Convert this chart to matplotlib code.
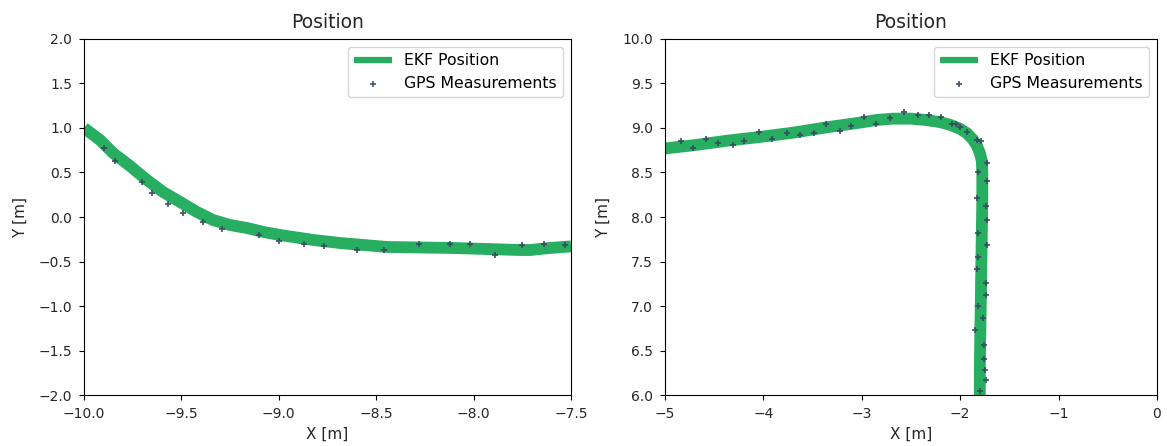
import numpy as np
import matplotlib
matplotlib.use('Agg')
import matplotlib.pyplot as plt

# left panel: EKF estimate and GPS fixes
ekf_x_1 = [-10.0, -9.918, -9.851, -9.764, -9.677, -9.594, -9.507, -9.42, -9.338, -9.25, -9.163, -9.076,
           -8.994, -8.824, -8.686, -8.444, -8.106, -7.762, -7.71, -7.608, -7.5]
ekf_y_1 = [1.0, 0.865, 0.719, 0.573, 0.416, 0.281, 0.169, 0.056, -0.034, -0.09, -0.124, -0.169,
           -0.202, -0.258, -0.292, -0.337, -0.348, -0.371, -0.371, -0.348, -0.33]
gps_x_1 = [-9.90, -9.84, -9.70, -9.65, -9.57, -9.49, -9.39, -9.29, -9.10, -9.00, -8.87, -8.77,
           -8.60, -8.46, -8.28, -8.12, -8.02, -7.89, -7.75, -7.64, -7.53]
gps_y_1 = [0.77, 0.63, 0.39, 0.27, 0.15, 0.04, -0.06, -0.13, -0.20, -0.27, -0.30, -0.33,
           -0.37, -0.37, -0.30, -0.30, -0.30, -0.43, -0.32, -0.30, -0.31]

# right panel
ekf_x_2 = [-5.0, -4.68, -4.37, -4.03, -3.70, -3.36, -3.02, -2.85, -2.68, -2.5, -2.35, -2.2, -2.1, -2.0,
           -1.93, -1.87, -1.83, -1.80, -1.78, -1.775, -1.775, -1.78, -1.785, -1.79, -1.795, -1.80, -1.80]
ekf_y_2 = [8.77, 8.81, 8.857, 8.90, 8.947, 9.007, 9.06, 9.09, 9.105, 9.105, 9.09, 9.065, 9.035, 8.99,
           8.94, 8.87, 8.80, 8.72, 8.63, 8.5, 8.2, 7.82, 7.45, 7.07, 6.7, 6.32, 6.0]
gps_x_2 = [-4.84, -4.71, -4.58, -4.46, -4.31, -4.20, -4.04, -3.91, -3.76, -3.63, -3.49, -3.36, -3.22, -3.11,
           -2.98, -2.86, -2.71, -2.57, -2.43, -2.32, -2.19, -2.08, -2.04, -2.0, -1.93, -1.83, -1.79,
           -1.73, -1.82, -1.73, -1.83, -1.74, -1.73, -1.82, -1.73, -1.82, -1.83, -1.74, -1.74, -1.82,
           -1.77, -1.85, -1.76, -1.76, -1.75, -1.74, -1.80]
gps_y_2 = [8.85, 8.77, 8.88, 8.83, 8.81, 8.85, 8.96, 8.88, 8.94, 8.92, 8.94, 9.05, 8.97, 9.02,
           9.12, 9.05, 9.11, 9.18, 9.15, 9.15, 9.12, 9.05, 9.045, 9.01, 8.96, 8.87, 8.85,
           8.61, 8.51, 8.40, 8.21, 8.12, 7.97, 7.82, 7.68, 7.55, 7.42, 7.26, 7.12, 7.0,
           6.86, 6.73, 6.56, 6.41, 6.28, 6.17, 6.04]

green = '#27ae60'
navy = '#34495e'
txt = '#262626'

fig = plt.figure(figsize=(11.67, 4.46), dpi=100)
ax1 = fig.add_axes([0.072, 0.1143, 0.4173, 0.7983])
ax2 = fig.add_axes([0.5698, 0.1143, 0.4216, 0.7983])

panels = [(ax1, ekf_x_1, ekf_y_1, gps_x_1, gps_y_1, (-10, -7.5), (-2, 2)),
          (ax2, ekf_x_2, ekf_y_2, gps_x_2, gps_y_2, (-5, 0), (6, 10))]

for ax, ex, ey, gx, gy, xl, yl in panels:
    ax.plot(ex, ey, color=green, lw=8.5, solid_capstyle='butt', solid_joinstyle='round',
            label='EKF Position', zorder=2)
    ax.scatter(gx, gy, marker='+', s=16, linewidths=1.3, color=navy, alpha=0.9,
               label='GPS Measurements', zorder=3)
    ax.set_xlim(*xl)
    ax.set_ylim(*yl)
    ax.set_title('Position', fontsize=13.5, color=txt, pad=8)
    ax.set_xlabel('X [m]', color=txt, fontsize=11, labelpad=4)
    ax.set_ylabel('Y [m]', color=txt, fontsize=11, labelpad=8)
    ax.tick_params(labelsize=10, labelcolor=txt, pad=5)
    leg = ax.legend(loc='upper right', fontsize=11.3, handlelength=2.4)
    leg.get_lines()[0].set_linewidth(4.5)

ax1.set_yticks(np.arange(-2, 2.01, 0.5))
ax2.set_yticks(np.arange(6, 10.01, 0.5))

fig.savefig('out.png', dpi=100)
